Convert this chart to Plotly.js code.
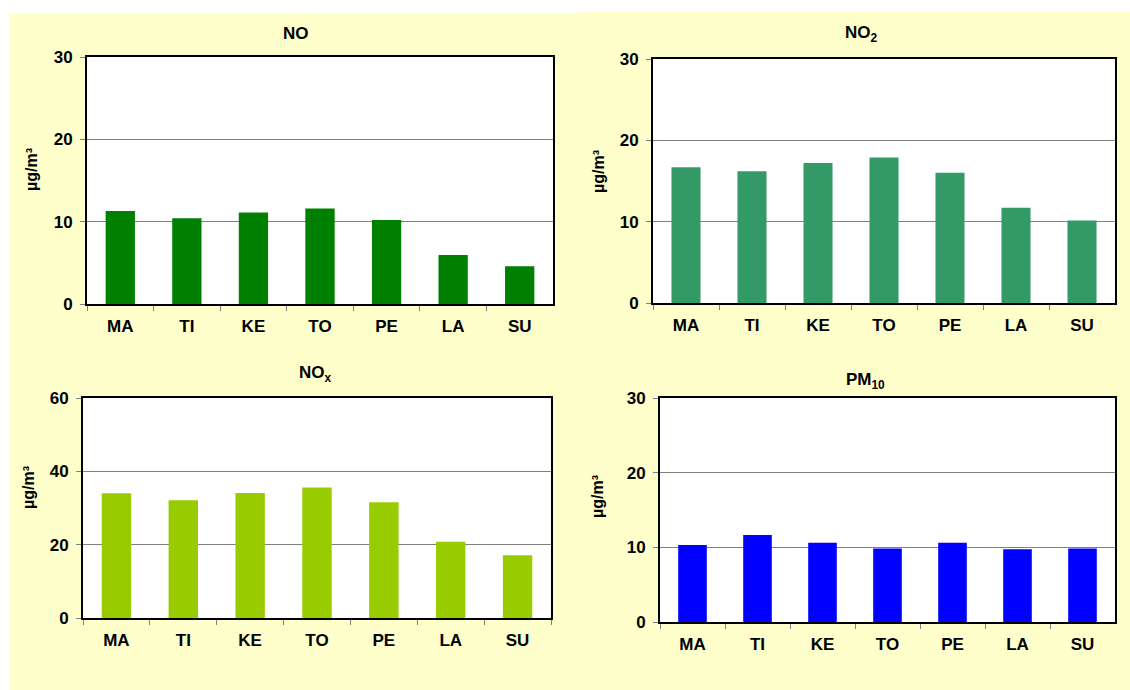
<!DOCTYPE html>
<html>
<head>
<meta charset="utf-8">
<script src="https://cdn.plot.ly/plotly-3.0.1.min.js"></script>
<style>html,body{margin:0;padding:0;background:#fff;}#chart{width:1130px;height:690px;}</style>
</head>
<body>
<div id="chart"></div>
<script>
const categories = ["MA", "TI", "KE", "TO", "PE", "LA", "SU"];
const noValues   = [11.3, 10.4, 11.1, 11.6, 10.2, 5.95, 4.6];
const no2Values  = [16.7, 16.2, 17.2, 17.9, 16.0, 11.7, 10.15];
const noxValues  = [34.0, 32.1, 34.1, 35.6, 31.6, 20.8, 17.1];
const pm10Values = [10.3, 11.65, 10.6, 9.85, 10.6, 9.75, 9.85];
const panelTitles = ["NO", "NO<sub>2</sub>", "NO<sub>x</sub>", "PM<sub>10</sub>"];
const yUnit = "µg/m³";
const yRanges = [[0, 30], [0, 30], [0, 60], [0, 30]];
const yDtick = [10, 10, 20, 10];
const colors = ["#008000", "#339966", "#99CC00", "#0000FF"];

const W = 1130, H = 690;
const px = x => x / W;
const py = y => 1 - y / H;

// plot areas in pixels [left, right, top, bottom]
const boxes = [
  [87, 553, 57, 304],
  [653, 1115, 59, 303],
  [83, 551, 398, 618],
  [660, 1115, 398, 622]
];
const titlePos = [[296, 34], [861, 34], [315, 374], [866, 381]];
const yTitlePos = [[31, 170], [598, 172], [28, 488], [597, 497]];

const series = [noValues, no2Values, noxValues, pm10Values];
const font = {family: "Liberation Sans, Arial, sans-serif", size: 17, color: "#000", weight: "bold"};

const data = [];
const layout = {
  width: W, height: H,
  margin: {l: 0, r: 0, t: 0, b: 0},
  paper_bgcolor: "#FFFFCC",
  plot_bgcolor: "#FFFFFF",
  showlegend: false,
  bargap: 0.56,
  font: font,
  annotations: [],
  shapes: [
    {type: "rect", xref: "paper", yref: "paper", x0: 0, x1: 1, y0: py(12), y1: 1, fillcolor: "#FFFFFF", line: {width: 0}, layer: "below"},
    {type: "rect", xref: "paper", yref: "paper", x0: 0, x1: px(9), y0: 0, y1: 1, fillcolor: "#FFFFFF", line: {width: 0}, layer: "below"},
    {type: "rect", xref: "paper", yref: "paper", x0: px(9), x1: px(577), y0: py(14), y1: py(12), fillcolor: "#FFFFFF", line: {width: 0}, layer: "below"}
  ]
};

for (let i = 0; i < 4; i++) {
  const s = i === 0 ? "" : String(i + 1);
  const b = boxes[i];
  data.push({
    type: "bar",
    x: categories,
    y: series[i],
    xaxis: "x" + s,
    yaxis: "y" + s,
    marker: {color: colors[i], line: {width: 0}},
    hoverinfo: "x+y"
  });
  layout["xaxis" + s] = {
    domain: [px(b[0]), px(b[1])],
    anchor: "y" + s,
    showline: true, linecolor: "#000", linewidth: 2, mirror: true,
    ticks: "outside", tickson: "boundaries", ticklen: 5, tickcolor: "#808080", tickwidth: 1,
    ticklabelstandoff: 6,
    showgrid: false, zeroline: false,
    tickfont: font, fixedrange: true
  };
  layout["yaxis" + s] = {
    domain: [py(b[3]), py(b[2])],
    anchor: "x" + s,
    range: yRanges[i], dtick: yDtick[i], tick0: 0,
    showline: true, linecolor: "#000", linewidth: 2, mirror: true,
    ticks: "outside", ticklen: 5, tickcolor: "#808080", tickwidth: 1,
    ticklabelstandoff: 4,
    showgrid: true, gridcolor: "#808080", gridwidth: 1,
    zeroline: false,
    tickfont: font, fixedrange: true
  };
  layout.annotations.push({
    text: panelTitles[i], xref: "paper", yref: "paper",
    x: px(titlePos[i][0]), y: py(titlePos[i][1]),
    xanchor: "center", yanchor: "middle", showarrow: false,
    font: font
  });
  layout.annotations.push({
    text: yUnit, xref: "paper", yref: "paper",
    x: px(yTitlePos[i][0]), y: py(yTitlePos[i][1]),
    xanchor: "center", yanchor: "middle", showarrow: false, textangle: -90,
    font: {family: font.family, size: 16, color: "#000", weight: "bold"}
  });
}

Plotly.newPlot("chart", data, layout, {staticPlot: true, displayModeBar: false});
</script>
</body>
</html>
